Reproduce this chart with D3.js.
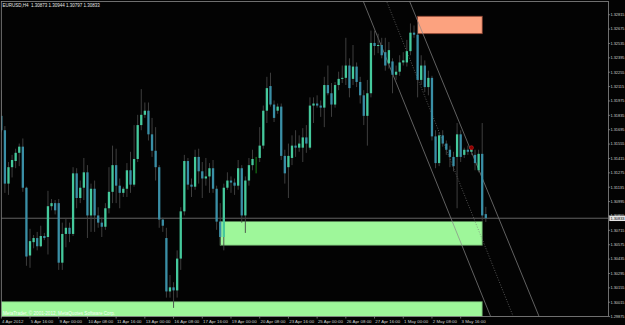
<!DOCTYPE html>
<html><head><meta charset="utf-8">
<script src="https://cdn.jsdelivr.net/npm/d3@7"></script>
<style>html,body{margin:0;padding:0;background:#000;overflow:hidden}</style>
</head><body><svg id="c" width="625" height="325"></svg>
<script>
// ---- data ----
const openP = [1.3183,1.3169,1.3117,1.3133,1.3139,1.3147,1.3153,1.3113,1.3047,1.3060,
1.3064,1.3056,1.3066,1.3065,1.3095,1.3098,1.3098,1.3040,1.3068,1.3074,
1.3068,1.3127,1.3103,1.3113,1.3128,1.3086,1.3112,1.3086,1.3079,1.3075,
1.3093,1.3109,1.3135,1.3115,1.3108,1.3112,1.3130,1.3116,1.3141,1.3174,
1.3184,1.3188,1.3165,1.3149,1.3133,1.3082,1.3064,1.3012,1.3016,1.3013,
1.3044,1.3090,1.3139,1.3116,1.3114,1.3143,1.3129,1.3122,1.3124,1.3132,
1.3112,1.3080,1.3065,1.3113,1.3120,1.3118,1.3115,1.3132,1.3086,1.3120,
1.3135,1.3139,1.3142,1.3154,1.3188,1.3212,1.3194,1.3188,1.3192,1.3144,
1.3133,1.3142,1.3154,1.3152,1.3152,1.3162,1.3152,1.3193,1.3195,1.3193,
1.3191,1.3213,1.3205,1.3194,1.3213,1.3219,1.3220,1.3232,1.3219,1.3231,
1.3216,1.3203,1.3183,1.3205,1.3254,1.3251,1.3252,1.3245,1.3234,1.3236,
1.3223,1.3226,1.3235,1.3235,1.3246,1.3264,1.3262,1.3218,1.3232,1.3211,
1.3220,1.3163,1.3137,1.3164,1.3156,1.3150,1.3143,1.3143,1.3165,1.3145,
1.3150,1.3148,1.3145,1.3130,1.3146,1.30873];
const highP = [1.3208,1.3173,1.3138,1.3145,1.3151,1.3156,1.3161,1.3114,1.3073,1.3067,
1.3070,1.3076,1.3069,1.3110,1.3102,1.3101,1.3102,1.3079,1.3083,1.3079,
1.3133,1.3132,1.3120,1.3142,1.3135,1.3117,1.3120,1.3094,1.3084,1.3098,
1.3133,1.3154,1.3151,1.3122,1.3114,1.3137,1.3148,1.3174,1.3184,1.3209,
1.3196,1.3196,1.3181,1.3172,1.3135,1.3084,1.3074,1.3028,1.3021,1.3052,
1.3094,1.3145,1.3142,1.3122,1.3150,1.3151,1.3138,1.3142,1.3137,1.3140,
1.3115,1.3098,1.3117,1.3128,1.3124,1.3122,1.3140,1.3135,1.3124,1.3142,
1.3150,1.3143,1.3172,1.3193,1.3221,1.3225,1.3198,1.3195,1.3195,1.3150,
1.3156,1.3164,1.3169,1.3164,1.3171,1.3174,1.3201,1.3201,1.3203,1.3198,
1.3221,1.3232,1.3215,1.3216,1.3226,1.3232,1.3259,1.3239,1.3252,1.3235,
1.3221,1.3208,1.3218,1.3266,1.3266,1.3263,1.3259,1.3259,1.3255,1.3239,
1.3232,1.3242,1.3245,1.3257,1.3273,1.3271,1.3274,1.3242,1.3237,1.3227,
1.3222,1.3169,1.3167,1.3169,1.3159,1.3154,1.3148,1.3176,1.3169,1.3152,
1.3154,1.3153,1.3150,1.3150,1.3176,1.30944];
const lowP = [1.3167,1.3108,1.3106,1.3123,1.3132,1.3134,1.3109,1.3037,1.3035,1.3054,
1.3052,1.3055,1.3062,1.3048,1.3091,1.3087,1.3033,1.3033,1.3055,1.3060,
1.3066,1.3093,1.3098,1.3101,1.3064,1.3070,1.3070,1.3074,1.3065,1.3072,
1.3088,1.3098,1.3098,1.3093,1.3104,1.3104,1.3108,1.3114,1.3138,1.3169,
1.3181,1.3159,1.3143,1.3120,1.3074,1.3070,1.3006,1.3006,1.2996,1.3006,
1.3033,1.3086,1.3111,1.3104,1.3111,1.3117,1.3103,1.3115,1.3108,1.3108,
1.3072,1.3057,1.3052,1.3111,1.3108,1.3106,1.3111,1.3079,1.3069,1.3115,
1.3130,1.3127,1.3138,1.3151,1.3176,1.3192,1.3177,1.3185,1.3140,1.3117,
1.3103,1.3135,1.3143,1.3148,1.3138,1.3147,1.3150,1.3176,1.3191,1.3182,
1.3172,1.3203,1.3182,1.3191,1.3208,1.3215,1.3213,1.3201,1.3213,1.3211,
1.3195,1.3174,1.3154,1.3201,1.3242,1.3244,1.3239,1.3227,1.3229,1.3205,
1.3218,1.3222,1.3232,1.3231,1.3242,1.3259,1.3201,1.3213,1.3206,1.3203,
1.3159,1.3132,1.3134,1.3153,1.3145,1.3133,1.3129,1.3093,1.3138,1.3142,
1.3145,1.3145,1.3130,1.3128,1.3081,1.30797];
const closeP = [1.3169,1.3117,1.3133,1.3140,1.3147,1.3153,1.3113,1.3046,1.3061,1.3064,
1.3056,1.3066,1.3064,1.3095,1.3098,1.3091,1.3040,1.3068,1.3074,1.3068,
1.3127,1.3103,1.3113,1.3128,1.3086,1.3112,1.3086,1.3079,1.3075,1.3093,
1.3109,1.3135,1.3115,1.3108,1.3112,1.3130,1.3116,1.3141,1.3174,1.3184,
1.3188,1.3165,1.3149,1.3133,1.3082,1.3076,1.3012,1.3016,1.3013,1.3044,
1.3090,1.3139,1.3116,1.3114,1.3143,1.3129,1.3122,1.3124,1.3132,1.3112,
1.3080,1.3065,1.3113,1.3120,1.3118,1.3115,1.3132,1.3086,1.3120,1.3135,
1.3141,1.3139,1.3154,1.3188,1.3210,1.3194,1.3181,1.3192,1.3144,1.3127,
1.3144,1.3154,1.3152,1.3156,1.3162,1.3156,1.3193,1.3195,1.3193,1.3191,
1.3213,1.3205,1.3194,1.3213,1.3219,1.3220,1.3232,1.3210,1.3231,1.3216,
1.3203,1.3183,1.3205,1.3254,1.3251,1.3252,1.3242,1.3232,1.3247,1.3223,
1.3226,1.3235,1.3237,1.3246,1.3264,1.3262,1.3218,1.3232,1.3211,1.3220,
1.3163,1.3137,1.3164,1.3156,1.3150,1.3143,1.3134,1.3165,1.3143,1.3150,
1.3148,1.3150,1.3137,1.3146,1.3086,1.30833];

const timeLabels = ["4 Apr 2012","5 Apr 16:00","9 Apr 00:00","10 Apr 08:00","11 Apr 16:00",
"13 Apr 00:00","16 Apr 08:00","17 Apr 16:00","19 Apr 00:00","20 Apr 08:00","23 Apr 16:00",
"25 Apr 00:00","26 Apr 08:00","27 Apr 16:00","1 May 00:00","2 May 08:00","3 May 16:00"];
const timeLabelBars = [0,8,16,24,32,40,48,56,64,72,80,88,96,104,112,120,128];

const priceTicks = [1.32815,1.32675,1.32535,1.32395,1.32255,1.32115,1.31975,1.31835,1.31695,
1.31555,1.31415,1.31275,1.31135,1.30995,1.30855,1.30715,1.30575,1.30435,1.30295,1.30155,
1.30015,1.29875];
const lastPrice = 1.30833;
const titleText = "EURUSD,H4  1.30873 1.30944 1.30797 1.30833";
const copyrightText = "MetaTrader, \u00A9 2001-2012, MetaQuotes Software Corp.";

// zones (rectangles): start bar, end bar, top price, bottom price
const zoneStart = [116, 61, -6];
const zoneEnd = [134, 134, 134];
const zoneTop = [1.3280, 1.3080, 1.3002];
const zoneBottom = [1.3263, 1.3057, 1.2960];

// trend lines: two anchor points each (bar, price)
const lineBarA = [100.7, 107.2, 113.6];
const linePriceA = [1.3296, 1.3296, 1.3296];
const lineBarB = [136.3, 142.6, 149.8];
const linePriceB = [1.2988, 1.2988, 1.2988];

// marker
const markerBar = [131];
const markerPrice = [1.3152];

// ---- drawing ----
const svg = d3.select("#c");
const L = 1.3, T = 1.5, R = 608.5, B = 316.5;
const x = d3.scaleLinear().domain([0, 135]).range([1.3, 485.8]);
const y = d3.scaleLinear().domain([1.29875, 1.32815]).range([316.6, 14.7]);
const FONT = "Liberation Sans, Arial, sans-serif";

svg.append("rect").attr("width",625).attr("height",325).attr("fill","#030303");

svg.append("defs").append("clipPath").attr("id","plot")
  .append("rect").attr("x",L).attr("y",T).attr("width",R-L).attr("height",B-T);
const g = svg.append("g").attr("clip-path","url(#plot)");

const zoneFill = ["#fca27f","#9ef79a","#9ef79a"];
const zoneEdge = ["#8a4030","#5c8f5a","#5c8f5a"];
const zones = zoneStart.map((s,i)=>({s, e:zoneEnd[i], t:zoneTop[i], b:zoneBottom[i], i}));
g.selectAll("rect.zone").data(zones).enter().append("rect")
  .attr("class","zone")
  .attr("x", d=>x(d.s)).attr("width", d=>x(d.e)-x(d.s))
  .attr("y", d=>y(d.t)).attr("height", d=>y(d.b)-y(d.t))
  .attr("fill", d=>zoneFill[d.i]).attr("stroke", d=>zoneEdge[d.i]).attr("stroke-width",0.8);

// trend lines
const lineStyle = [{c:"#8a8a8a",d:null},{c:"#7a7a7a",d:"1,1.6"},{c:"#8a8a8a",d:null}];
lineBarA.forEach((b,i)=>{
  g.append("line")
    .attr("x1", x(b)).attr("y1", y(linePriceA[i]))
    .attr("x2", x(lineBarB[i])).attr("y2", y(linePriceB[i]))
    .attr("stroke", lineStyle[i].c).attr("stroke-width",0.7)
    .attr("stroke-dasharray", lineStyle[i].d);
});

// last price line
g.append("line").attr("x1",L).attr("x2",R).attr("y1",y(lastPrice)).attr("y2",y(lastPrice))
  .attr("stroke","#6e6e6e").attr("stroke-width",0.9);

// candles
const bars = openP.map((o,i)=>({i,o,h:highP[i],l:lowP[i],c:closeP[i]}));
const bull = "#45c99c", bear = "#3a8fa6", wick = "#454545", doji = "#1c9a1c";
const cg = g.append("g");
cg.selectAll("line.w").data(bars).enter().append("line")
  .attr("x1",d=>x(d.i)).attr("x2",d=>x(d.i))
  .attr("y1",d=>y(d.h)).attr("y2",d=>y(d.l))
  .attr("stroke",d=>d.o===d.c?doji:wick).attr("stroke-width",0.9);
const bw = 2.3;
cg.selectAll("rect.b").data(bars.filter(d=>d.o!==d.c)).enter().append("rect")
  .attr("x",d=>x(d.i)-bw/2).attr("width",bw)
  .attr("y",d=>y(Math.max(d.o,d.c)))
  .attr("height",d=>Math.max(0.8, Math.abs(y(d.o)-y(d.c))))
  .attr("fill",d=>d.c>d.o?bull:bear);

// marker
g.selectAll("circle.m").data(markerBar).enter().append("circle")
  .attr("cx",d=>x(d)).attr("cy",(d,i)=>y(markerPrice[i])).attr("r",2)
  .attr("fill","#8c0000").attr("stroke","#d02020").attr("stroke-width",0.6);

// copyright
svg.append("text").attr("x",3).attr("y",315).text(copyrightText)
  .attr("font-family",FONT).attr("font-size",4.6)
  .attr("fill","#f4fff4");

// frame
svg.append("rect").attr("x",L).attr("y",T).attr("width",R-L).attr("height",B-T)
  .attr("fill","none").attr("stroke","#8a8a8a").attr("stroke-width",0.8);

// title
svg.append("text").attr("x",2.5).attr("y",7).text(titleText)
  .attr("font-family",FONT).attr("font-size",4.5)
  .attr("fill","#e6e6e6").attr("xml:space","preserve");

// right price axis
const ax = svg.append("g");
ax.selectAll("line.pt").data(priceTicks).enter().append("line")
  .attr("x1",R).attr("x2",R+1.6).attr("y1",d=>y(d)).attr("y2",d=>y(d))
  .attr("stroke","#9a9a9a").attr("stroke-width",0.7);
ax.selectAll("text.pt").data(priceTicks).enter().append("text")
  .attr("x",R+1.9).attr("y",d=>y(d)+1.4).text(d=>d.toFixed(5))
  .attr("font-family",FONT).attr("font-size",3.9)
  .attr("fill","#cfcfcf");
// last price box
ax.append("rect").attr("x",R+0.8).attr("y",y(lastPrice)-2.6).attr("width",15.7).attr("height",5.4)
  .attr("fill","#e4e4e4");
ax.append("text").attr("x",R+1.9).attr("y",y(lastPrice)+1.4).text(lastPrice.toFixed(5))
  .attr("font-family",FONT).attr("font-size",3.9)
  .attr("fill","#000");

// bottom time axis
ax.selectAll("line.tt").data(timeLabelBars).enter().append("line")
  .attr("x1",d=>x(d)).attr("x2",d=>x(d)).attr("y1",B).attr("y2",B+2)
  .attr("stroke","#9a9a9a").attr("stroke-width",0.7);
ax.selectAll("text.tt").data(timeLabelBars).enter().append("text")
  .attr("x",d=>x(d)+0.8).attr("y",323).text((d,i)=>timeLabels[i])
  .attr("font-family",FONT).attr("font-size",4.4)
  .attr("fill","#cfcfcf");
</script></body></html>
